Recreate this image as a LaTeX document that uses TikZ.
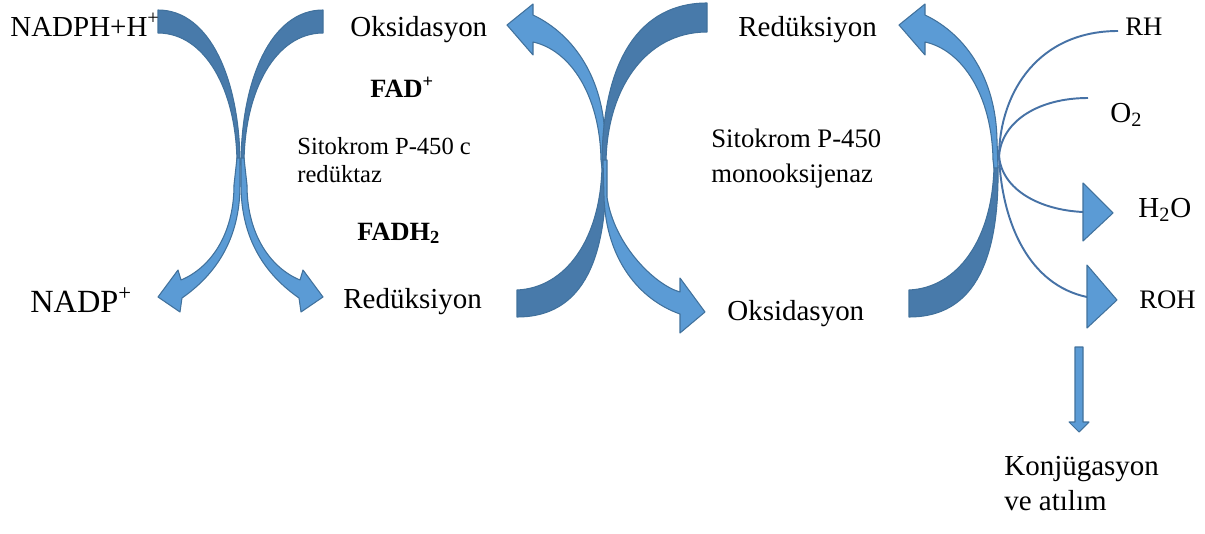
\documentclass[tikz,border=0pt]{standalone}
\usepackage{fontspec}
\setmainfont{Liberation Serif}

\definecolor{faceblue}{RGB}{91,155,213}
\definecolor{backblue}{RGB}{72,122,170}
\definecolor{edgeblue}{RGB}{65,113,156}
\definecolor{lineblue}{RGB}{70,114,166}

\newcommand{\bendL}{%
  \path[back] (158,10) .. controls (210,10) and (240,80) .. (240,165) -- (237,165) .. controls (237,90) and (205,33) .. (158,33) -- cycle;
  \path[face] (240,158) -- (240,185) .. controls (240,240) and (215,275) .. (182,298) -- (180,312) -- (158,297) -- (178,270) -- (181,280) .. controls (210,268) and (234,235) .. (234,185) -- (237,158) -- cycle;}
\newcommand{\bendM}{%
  \path[back] (517,290) .. controls (565,288) and (601,240) .. (602,165) -- (606,165) .. controls (608,280) and (570,317) .. (517,317) -- cycle;
  \path[face] (606,168) -- (605,140) .. controls (604,80) and (575,35) .. (533,15) -- (533,4) -- (507,25) -- (533,55) -- (533,42) .. controls (570,50) and (600,95) .. (601,160) -- (602,168) -- cycle;}

\begin{document}
\begin{tikzpicture}[
  x=0.02cm, y=-0.02cm,
  lbl/.style={inner sep=0pt, anchor=base west, font=\fontsize{16.5}{20}\selectfont},
  sml/.style={lbl, font=\fontsize{14}{17}\selectfont},
  med/.style={lbl, font=\fontsize{15.2}{18}\selectfont},
  bld/.style={lbl, font=\fontsize{15}{18}\selectfont\bfseries},
  face/.style={fill=faceblue, draw=edgeblue, line width=0.6pt, line join=round},
  back/.style={fill=backblue, draw=edgeblue, line width=0.6pt, line join=round},
  bond/.style={draw=lineblue, line width=1.1pt}
]
  \useasboundingbox (0,0) rectangle (1205,534);

  \bendL
  \begin{scope}[shift={(481,0)}, xscale=-1]
    \bendL
  \end{scope}
  \bendM
  \begin{scope}[shift={(392,0)}]
    \bendM
  \end{scope}
  \path[back] (707,3) .. controls (640,3) and (602,60) .. (602,165) -- (606,165) .. controls (606,90) and (645,32) .. (707,32) -- cycle;
  \path[face] (603,160) -- (604,197) .. controls (606,260) and (640,300) .. (680,314) -- (680,333) -- (705,312) -- (680,278) -- (680,292) .. controls (655,285) and (614,245) .. (607,197) -- (607,160) -- cycle;

  \coordinate (hub) at (999,156);
  \coordinate (rhend) at (1118,31);
  \coordinate (otwoend) at (1088,98);
  \coordinate (waterend) at (1083,212);
  \coordinate (rohend) at (1087,297);
  \draw[bond] (rhend) .. controls (1040,31) and (1000,90) .. (hub);
  \draw[bond] (otwoend) .. controls (1040,98) and (1002,120) .. (hub);
  \draw[bond] (hub) .. controls (1002,190) and (1040,210) .. (waterend);
  \draw[bond] (hub) .. controls (1002,225) and (1030,285) .. (rohend);
  \path[face] (1083,183) -- (1113,213) -- (1083,241) -- cycle;
  \path[face] (1087,265) -- (1117,300) -- (1087,328) -- cycle;
  \path[face] (1075,347) -- (1083,347) -- (1083,422) -- (1089,422) -- (1079,432) -- (1069,422) -- (1075,422) -- cycle;

  \node[lbl] (nadph) at (10,36) {NADPH+H\textsuperscript{+}};
  \node[lbl] (oksA) at (350,36) {Oksidasyon};
  \node[bld] (fad) at (370,97) {FAD\textsuperscript{+}};
  \node[sml] (sitoA) at (297,154) {Sitokrom P-450 c};
  \node[sml] (redA) at (297,182) {redüktaz};
  \node[bld] (fadh) at (357,240) {FADH\textsubscript{2}};
  \node[lbl, font=\fontsize{18.4}{22}\selectfont] (nadp) at (30,312) {NADP\textsuperscript{+}};
  \node[lbl] (redB) at (343,308) {Redüksiyon};
  \node[lbl] (redC) at (738,36) {Redüksiyon};
  \node[med] (sitoB) at (711,147) {Sitokrom P-450};
  \node[med] (mono) at (711,182) {monooksijenaz};
  \node[lbl] (oksB) at (727,320) {Oksidasyon};
  \node[med] (rh) at (1125,35) {RH};
  \node[lbl] (otwo) at (1110,122) {O\textsubscript{2}};
  \node[lbl] (water) at (1138,217) {H\textsubscript{2}O};
  \node[med] (roh) at (1139,308) {ROH};
  \node[lbl] (konj) at (1004,475) {Konjügasyon};
  \node[lbl] (atil) at (1004,510) {ve atılım};
\end{tikzpicture}
\end{document}
